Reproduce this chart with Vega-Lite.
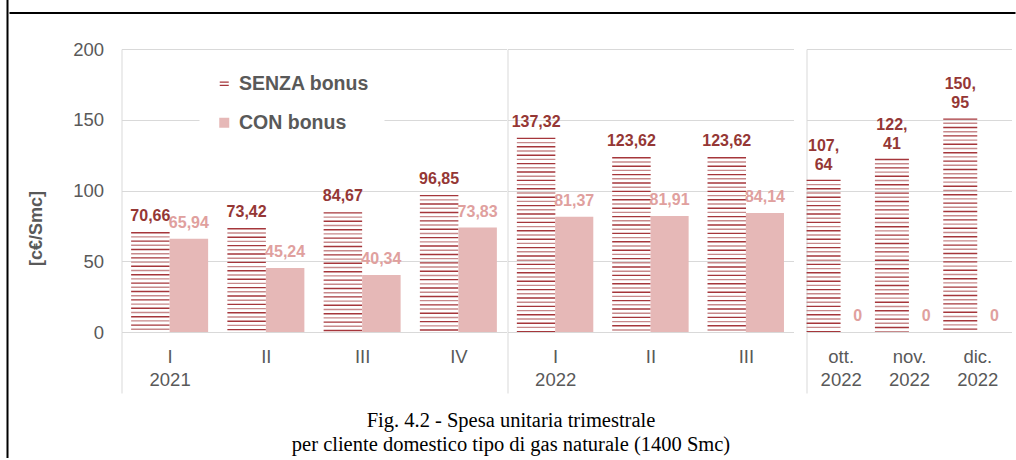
{
  "$schema": "https://vega.github.io/schema/vega-lite/v6.json",
  "background": "white",
  "padding": {"left": 6.5, "top": 0, "right": 0, "bottom": 0},
  "config": {
    "font": "Liberation Sans",
    "view": {"stroke": null},
    "concat": {"spacing": 0}
  },
  "datasets": {
    "spesa": [
      {"panel": "2021", "period": "I", "series": "SENZA bonus", "value": 70.66},
      {"panel": "2021", "period": "I", "series": "CON bonus", "value": 65.94},
      {"panel": "2021", "period": "II", "series": "SENZA bonus", "value": 73.42},
      {"panel": "2021", "period": "II", "series": "CON bonus", "value": 45.24},
      {"panel": "2021", "period": "III", "series": "SENZA bonus", "value": 84.67},
      {"panel": "2021", "period": "III", "series": "CON bonus", "value": 40.34},
      {"panel": "2021", "period": "IV", "series": "SENZA bonus", "value": 96.85},
      {"panel": "2021", "period": "IV", "series": "CON bonus", "value": 73.83},
      {"panel": "2022", "period": "I", "series": "SENZA bonus", "value": 137.32},
      {"panel": "2022", "period": "I", "series": "CON bonus", "value": 81.37},
      {"panel": "2022", "period": "II", "series": "SENZA bonus", "value": 123.62},
      {"panel": "2022", "period": "II", "series": "CON bonus", "value": 81.91},
      {"panel": "2022", "period": "III", "series": "SENZA bonus", "value": 123.62},
      {"panel": "2022", "period": "III", "series": "CON bonus", "value": 84.14},
      {"panel": "mesi", "period": "ott.", "series": "SENZA bonus", "value": 107.64},
      {"panel": "mesi", "period": "ott.", "series": "CON bonus", "value": 0},
      {"panel": "mesi", "period": "nov.", "series": "SENZA bonus", "value": 122.41},
      {"panel": "mesi", "period": "nov.", "series": "CON bonus", "value": 0},
      {"panel": "mesi", "period": "dic.", "series": "SENZA bonus", "value": 150.95},
      {"panel": "mesi", "period": "dic.", "series": "CON bonus", "value": 0}
    ]
  },
  "spacing": 0,
  "hconcat": [
    {
      "width": 0.01,
      "height": 456,
      "data": {"values": []},
      "mark": "point",
      "view": {"stroke": "black", "strokeWidth": 2}
    },
    {
      "spacing": 25,
      "vconcat": [
        {
          "spacing": 10,
          "vconcat": [
            {"width": 1004, "height": 0.01, "data": {"values": []}, "mark": "point"},
            {"width": 1004, "height": 0.01, "data": {"values": []}, "mark": "point", "view": {"stroke": "black", "strokeWidth": 2}}
          ]
        },
        {
          "spacing": 0,
          "resolve": {"scale": {"xOffset": "independent"}},
          "title": {
            "text": ["Fig. 4.2 - Spesa unitaria trimestrale", "per cliente domestico tipo di gas naturale (1400 Smc)"],
            "orient": "bottom",
            "anchor": "middle",
            "font": "Liberation Serif",
            "fontSize": 20.5,
            "fontWeight": "normal",
            "color": "black",
            "lineHeight": 24,
            "offset": 17
          },
          "hconcat": [
            {"width": 16.5, "height": 283, "data": {"values": []}, "mark": "point"},
            {
              "width": 385,
              "height": 283,
              "data": {"name": "spesa"},
              "transform": [{"filter": "datum.panel === '2021'"}],
              "encoding": {
                "x": {
                  "field": "period", "type": "nominal", "sort": ["I", "II", "III", "IV"],
                  "scale": {"paddingInner": 0, "paddingOuter": 0},
                  "axis": {
                    "title": null, "labelAngle": 0, "labelFontSize": 18.5, "labelColor": "#595959",
                    "labelPadding": -46, "labelLineHeight": 23,
                    "labelExpr": "datum.value === 'I' ? ['I', '2021'] : indexof(['II','III','IV'], datum.value) >= 0 ? datum.value : ''",
                    "domainColor": "#D9D9D9", "tickBand": "extent", "tickColor": "#D9D9D9", "tickSize": 61,
                    "tickOpacity": {"condition": {"test": "indexof(['I','II','III','IV'], datum.value) < 0", "value": 1}, "value": 0}
                  }
                },
                "xOffset": {"field": "series", "type": "nominal", "scale": {"domain": ["SENZA bonus", "CON bonus"], "paddingInner": 0, "paddingOuter": 0.25}},
                "y": {
                  "field": "value", "type": "quantitative", "scale": {"domain": [0, 200]},
                  "axis": {
                    "title": "[c€/Smc]", "titleFontSize": 18, "titleFontWeight": "bold", "titleColor": "#595959",
                    "titlePadding": 27, "titleY": 179,
                    "values": [0, 50, 100, 150, 200], "labelFontSize": 18.5, "labelColor": "#595959", "labelPadding": 18,
                    "ticks": false, "domainColor": "#D9D9D9", "gridColor": "#D9D9D9"
                  }
                }
              },
              "layer": [
                {
                  "transform": [{"filter": "datum.series === 'SENZA bonus'"}],
                  "mark": {"type": "rule", "strokeWidth": 38.5, "strokeDash": [1.4, 7], "color": "#A5363B"},
                  "encoding": {"y2": {"datum": 0}}
                },
                {
                  "transform": [{"filter": "datum.series === 'SENZA bonus'"}],
                  "mark": {"type": "rule", "strokeWidth": 38.5, "strokeDash": [1.4, 7], "strokeDashOffset": 4.2, "color": "#C7898B"},
                  "encoding": {"y2": {"datum": 0}}
                },
                {
                  "transform": [{"filter": "datum.series === 'CON bonus'"}],
                  "mark": {"type": "bar"},
                  "encoding": {
                    "color": {
                      "field": "series", "type": "nominal",
                      "scale": {"domain": ["SENZA bonus", "CON bonus"], "range": ["#A5363B", "#E6B8B7"]},
                      "legend": {
                        "orient": "none", "legendX": 192, "legendY": 58, "title": null,
                        "fillColor": "white", "padding": 15, "rowPadding": 18,
                        "labelFontSize": 19.5, "labelFontWeight": "bold", "labelColor": "#595959", "labelOffset": 5,
                        "symbolType": "square", "symbolSize": 100, "symbolStrokeWidth": 0,
                        "encode": {"symbols": {"update": {"shape": {"signal": "datum.value === 'SENZA bonus' ? 'M-0.9,-0.45H0.9V-0.2H-0.9ZM-0.9,0.2H0.9V0.45H-0.9Z' : 'square'"}}}}
                      }
                    }
                  }
                },
                {
                  "mark": {"type": "text", "baseline": "alphabetic", "dy": -11, "fontSize": 16, "fontWeight": "bold",
                           "text": {"expr": "replace(format(datum.value, '.2f'), '.', ',')"}},
                  "encoding": {"color": {"condition": {"test": "datum.series === 'SENZA bonus'", "value": "#953735"}, "value": "#E0A09E"}}
                }
              ]
            },
            {
              "width": 286,
              "height": 283,
              "data": {"name": "spesa"},
              "transform": [{"filter": "datum.panel === '2022'"}],
              "encoding": {
                "x": {
                  "field": "period", "type": "nominal", "sort": ["I", "II", "III"],
                  "scale": {"paddingInner": 0, "paddingOuter": 0},
                  "axis": {
                    "title": null, "labelAngle": 0, "labelFontSize": 18.5, "labelColor": "#595959",
                    "labelPadding": -46, "labelLineHeight": 23,
                    "labelExpr": "datum.value === 'I' ? ['I', '2022'] : indexof(['II','III'], datum.value) >= 0 ? datum.value : ''",
                    "domainColor": "#D9D9D9", "tickBand": "extent", "tickColor": "#D9D9D9", "tickSize": 61,
                    "tickOpacity": {"condition": {"test": "indexof(['I','II','III'], datum.value) < 0", "value": 1}, "value": 0}
                  }
                },
                "xOffset": {"field": "series", "type": "nominal", "scale": {"domain": ["SENZA bonus", "CON bonus"], "paddingInner": 0, "paddingOuter": 0.25}},
                "y": {
                  "field": "value", "type": "quantitative", "scale": {"domain": [0, 200]},
                  "axis": {"title": null, "labels": false, "ticks": false, "values": [0, 50, 100, 150, 200], "domainColor": "#D9D9D9", "gridColor": "#D9D9D9"}
                }
              },
              "layer": [
                {
                  "transform": [{"filter": "datum.series === 'SENZA bonus'"}],
                  "mark": {"type": "rule", "strokeWidth": 38.5, "strokeDash": [1.4, 7], "color": "#A5363B"},
                  "encoding": {"y2": {"datum": 0}}
                },
                {
                  "transform": [{"filter": "datum.series === 'SENZA bonus'"}],
                  "mark": {"type": "rule", "strokeWidth": 38.5, "strokeDash": [1.4, 7], "strokeDashOffset": 4.2, "color": "#C7898B"},
                  "encoding": {"y2": {"datum": 0}}
                },
                {
                  "transform": [{"filter": "datum.series === 'CON bonus'"}],
                  "mark": {"type": "bar", "color": "#E6B8B7"}
                },
                {
                  "mark": {"type": "text", "baseline": "alphabetic", "dy": -11, "fontSize": 16, "fontWeight": "bold",
                           "text": {"expr": "replace(format(datum.value, '.2f'), '.', ',')"}},
                  "encoding": {"color": {"condition": {"test": "datum.series === 'SENZA bonus'", "value": "#953735"}, "value": "#E0A09E"}}
                }
              ]
            },
            {"width": 12, "height": 283, "data": {"values": []}, "mark": "point"},
            {
              "width": 205,
              "height": 283,
              "data": {"name": "spesa"},
              "transform": [{"filter": "datum.panel === 'mesi'"}],
              "encoding": {
                "x": {
                  "field": "period", "type": "nominal", "sort": ["ott.", "nov.", "dic."],
                  "scale": {"paddingInner": 0, "paddingOuter": 0},
                  "axis": {
                    "title": null, "labelAngle": 0, "labelFontSize": 18.5, "labelColor": "#595959",
                    "labelPadding": -46, "labelLineHeight": 23,
                    "labelExpr": "indexof(['ott.','nov.','dic.'], datum.value) >= 0 ? [datum.value, '2022'] : ''",
                    "domainColor": "#D9D9D9", "tickBand": "extent", "tickColor": "#D9D9D9", "tickSize": 61,
                    "tickOpacity": {"condition": {"test": "indexof(['ott.','nov.','dic.'], datum.value) < 0", "value": 1}, "value": 0}
                  }
                },
                "xOffset": {"field": "series", "type": "nominal", "scale": {"domain": ["SENZA bonus", "CON bonus"], "paddingInner": 0, "paddingOuter": 0}},
                "y": {
                  "field": "value", "type": "quantitative", "scale": {"domain": [0, 200]},
                  "axis": {"title": null, "labels": false, "ticks": false, "values": [0, 50, 100, 150, 200], "domainColor": "#D9D9D9", "gridColor": "#D9D9D9"}
                }
              },
              "layer": [
                {
                  "transform": [{"filter": "datum.series === 'SENZA bonus'"}],
                  "mark": {"type": "rule", "strokeWidth": 34, "strokeDash": [1.4, 7], "color": "#A5363B"},
                  "encoding": {"y2": {"datum": 0}}
                },
                {
                  "transform": [{"filter": "datum.series === 'SENZA bonus'"}],
                  "mark": {"type": "rule", "strokeWidth": 34, "strokeDash": [1.4, 7], "strokeDashOffset": 4.2, "color": "#C7898B"},
                  "encoding": {"y2": {"datum": 0}}
                },
                {
                  "transform": [{"filter": "datum.series === 'SENZA bonus'"}],
                  "mark": {"type": "text", "baseline": "alphabetic", "dy": -29, "lineHeight": 19, "fontSize": 16, "fontWeight": "bold", "color": "#953735",
                           "text": {"expr": "split(replace(format(datum.value, '.2f'), '.', ',|'), '|')"}}
                },
                {
                  "transform": [{"filter": "datum.series === 'CON bonus'"}],
                  "mark": {"type": "text", "baseline": "alphabetic", "dy": -11, "fontSize": 16, "fontWeight": "bold", "color": "#E0A09E", "text": "0"}
                }
              ]
            }
          ]
        }
      ]
    }
  ]
}
